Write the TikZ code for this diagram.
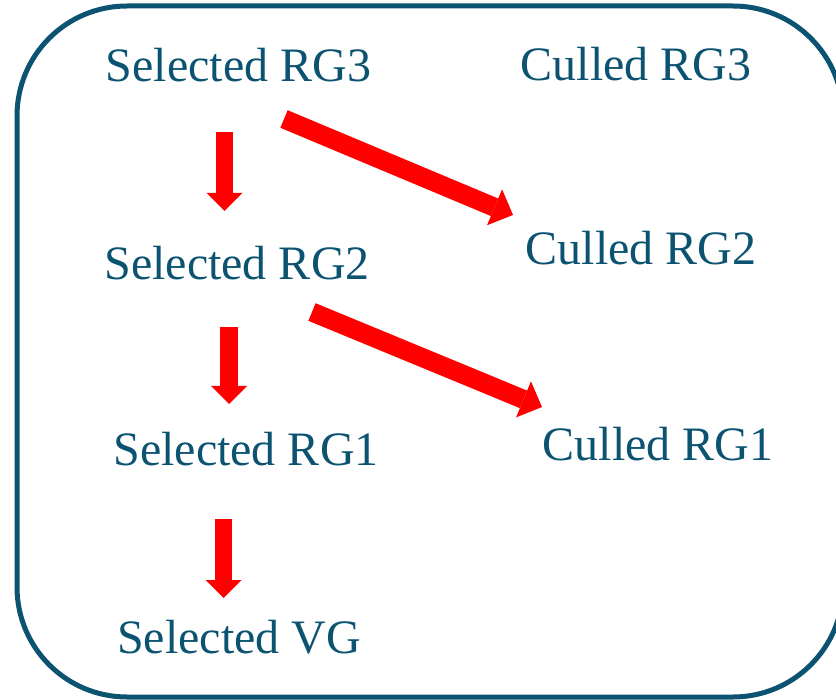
\documentclass[tikz,border=0pt]{standalone}
\usepackage{fontspec}
\setmainfont{Liberation Serif}
\usepackage{xcolor}
\usetikzlibrary{arrows.meta}
\definecolor{boxblue}{RGB}{11,83,113}

\begin{document}
\begin{tikzpicture}[x=1pt,y=-1pt,
  lbl/.style={text=boxblue,font=\fontsize{48}{58}\selectfont,inner sep=0pt,anchor=base},
  fat/.style={red,line width=17.5pt,-{Triangle[width=36pt,length=18pt,line width=0pt]}},
  fatter/.style={red,line width=19pt,-{Triangle[width=39pt,length=20pt,line width=0pt]}}]
\useasboundingbox (0,0) rectangle (836,700);
\draw[boxblue,line width=5pt,rounded corners=110pt] (17,6) rectangle (843,697);
\node[lbl] (s3) at (238.5,82) {Selected RG3};
\node[lbl] (c3) at (636,81) {Culled RG3};
\node[lbl] (s2) at (237,280) {Selected RG2};
\node[lbl] (c2) at (641,265) {Culled RG2};
\node[lbl] (s1) at (246,466) {Selected RG1};
\node[lbl] (c1) at (658,461) {Culled RG1};
\node[lbl] (vg) at (239,653) {Selected VG};
\path[fat]
([xshift=-14pt,yshift=-50pt]s3.base) edge ([xshift=-12.5pt,yshift=69pt]s2.base)
([xshift=-8pt,yshift=-47pt]s2.base) edge ([xshift=-17pt,yshift=62pt]s1.base)
([xshift=-22.5pt,yshift=-53pt]s1.base) edge ([xshift=-15.5pt,yshift=55pt]vg.base)
;
\path[fatter]
([xshift=45.5pt,yshift=-37pt]s3.base) edge ([xshift=-128pt,yshift=50pt]c2.base)
([xshift=75pt,yshift=-32pt]s2.base) edge ([xshift=-116pt,yshift=54pt]c1.base)
;
\end{tikzpicture}
\end{document}
